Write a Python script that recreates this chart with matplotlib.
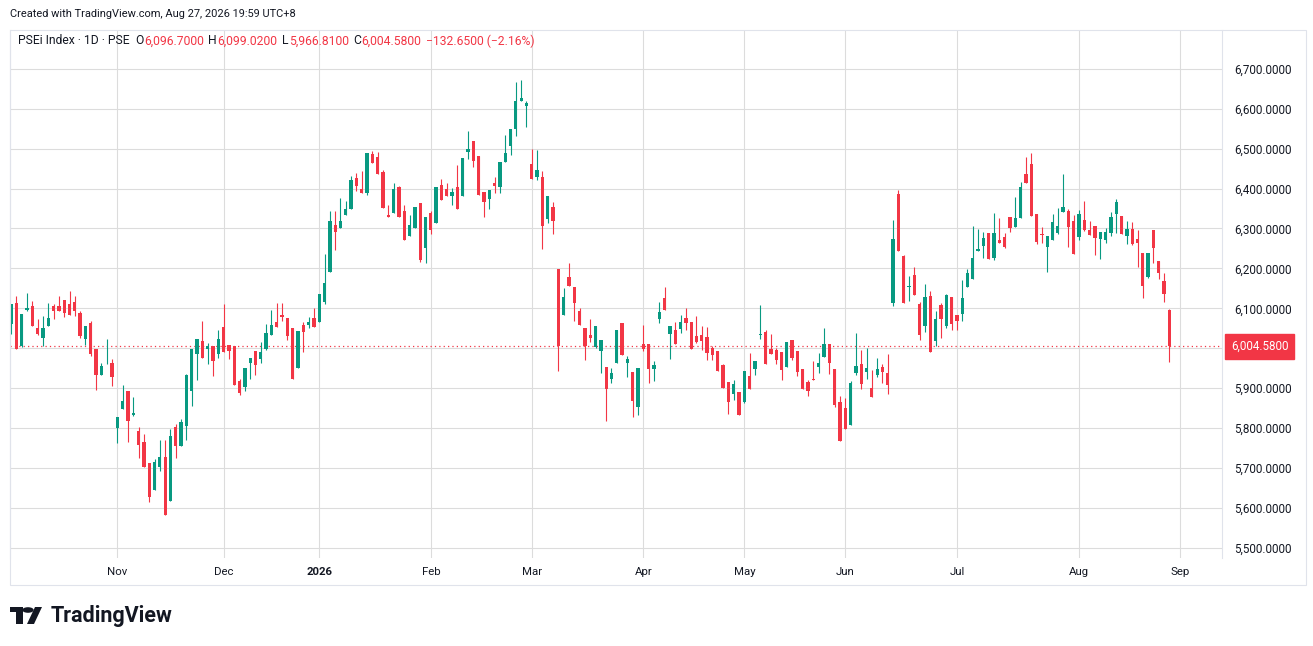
import matplotlib
matplotlib.use("Agg")
import matplotlib.pyplot as plt
import matplotlib.patches as mpatches
import numpy as np
import pandas as pd

# PSEi Tageskerzen (Okt 2025 - 27. Aug 2026)
opens = [6062, 6113, 6006, 6097, 6106, 6052, 6027, 6055, 6106, 6106,
         6121, 6111, 6117, 6088, 6024, 6063, 5998, 5933, 5962, 5963,
         5800, 5848, 5892, 5834, 5792, 5765, 5712, 5646, 5703, 5727,
         5617, 5804, 5756, 5806, 5894, 5986, 6018, 5998, 6005, 5986,
         6053, 6008, 6006, 5918, 5904, 5963, 5993, 5974, 5998, 6034,
         6066, 6083, 6076, 6050, 5951, 6058, 6059, 6076, 6067, 6115,
         6190, 6310, 6302, 6335, 6349, 6426, 6398, 6388, 6486, 6478,
         6441, 6335, 6339, 6403, 6345, 6281, 6301, 6365, 6251, 6340,
         6313, 6408, 6398, 6382, 6403, 6382, 6492, 6518, 6481, 6391,
         6374, 6413, 6404, 6467, 6507, 6548, 6619, 6607, 6461, 6429,
         6428, 6323, 6353, 6198, 6084, 6178, 6153, 6093, 6051, 6033,
         6004, 5994, 5953, 5922, 5962, 6063, 5964, 5941, 5852, 6011,
         6011, 5948, 6073, 6126, 6036, 6046, 6048, 6076, 6066, 6031,
         6033, 6028, 6001, 5993, 5958, 5916, 5886, 5891, 5866, 5931,
         5947, 6034, 6041, 5998, 5996, 5991, 5953, 6021, 5993, 5948,
         5916, 5923, 5953, 5978, 6011, 5948, 5866, 5851, 5809, 5939,
         5961, 5941, 5901, 5933, 5953, 5938, 6113, 6386, 6231, 6153,
         6183, 6111, 6056, 6131, 6019, 6108, 6056, 6128, 6083, 6086,
         6153, 6173, 6243, 6256, 6288, 6226, 6271, 6278, 6328, 6303,
         6326, 6436, 6461, 6336, 6286, 6253, 6271, 6288, 6341, 6343,
         6318, 6279, 6321, 6296, 6306, 6273, 6271, 6288, 6336, 6331,
         6282, 6298, 6273, 6238, 6178, 6296, 6218, 6168, 6096.70]
highs = [6111, 6130, 6086, 6138, 6118, 6073, 6081, 6114, 6112, 6130,
         6121, 6143, 6132, 6094, 6056, 6069, 5998, 5963, 6023, 5973,
         5829, 5908, 5892, 5878, 5804, 5785, 5712, 5723, 5770, 5770,
         5797, 5810, 5823, 5935, 5998, 6023, 6068, 6013, 6005, 6046,
         6111, 6008, 6006, 5923, 5951, 5977, 5993, 6015, 6062, 6096,
         6113, 6113, 6076, 6050, 6044, 6065, 6078, 6101, 6136, 6237,
         6344, 6344, 6377, 6368, 6432, 6439, 6443, 6488, 6493, 6491,
         6446, 6359, 6413, 6406, 6358, 6333, 6355, 6365, 6328, 6345,
         6403, 6423, 6413, 6401, 6458, 6476, 6543, 6518, 6481, 6391,
         6396, 6428, 6466, 6533, 6548, 6666, 6673, 6618, 6500, 6496,
         6443, 6381, 6366, 6198, 6151, 6213, 6153, 6101, 6051, 6073,
         6056, 6021, 5953, 5951, 6046, 6063, 5981, 5941, 5951, 6058,
         6011, 5968, 6116, 6153, 6056, 6066, 6083, 6101, 6066, 6081,
         6056, 6053, 6006, 5993, 5961, 5916, 5921, 5891, 5943, 5988,
         5968, 6108, 6046, 6036, 6001, 5991, 6016, 6021, 5993, 5948,
         5921, 5968, 5988, 6051, 6011, 5948, 5881, 5876, 5918, 6038,
         5996, 6001, 5946, 5976, 5961, 5986, 6321, 6396, 6233, 6181,
         6203, 6116, 6161, 6143, 6093, 6113, 6136, 6128, 6083, 6171,
         6198, 6306, 6298, 6291, 6288, 6338, 6326, 6288, 6328, 6378,
         6416, 6478, 6488, 6336, 6303, 6281, 6336, 6351, 6436, 6348,
         6333, 6346, 6368, 6318, 6306, 6291, 6301, 6341, 6373, 6331,
         6318, 6316, 6296, 6238, 6238, 6296, 6218, 6188, 6099.02]
lows = [6037, 5999, 6004, 6094, 6056, 6034, 6005, 6055, 6073, 6094,
        6079, 6084, 6081, 6026, 6008, 5981, 5896, 5933, 5960, 5906,
        5764, 5848, 5766, 5831, 5725, 5703, 5616, 5646, 5693, 5583,
        5617, 5725, 5756, 5771, 5856, 5921, 5976, 5961, 5931, 5976,
        5990, 5973, 5907, 5884, 5892, 5923, 5932, 5963, 5996, 6034,
        6054, 6069, 6022, 5922, 5951, 5992, 6051, 6053, 6067, 6110,
        6190, 6246, 6302, 6335, 6349, 6393, 6388, 6383, 6465, 6437,
        6351, 6329, 6339, 6328, 6271, 6281, 6301, 6216, 6213, 6286,
        6313, 6372, 6382, 6359, 6349, 6382, 6473, 6454, 6384, 6329,
        6349, 6388, 6389, 6467, 6484, 6532, 6619, 6554, 6424, 6422,
        6248, 6313, 6286, 5942, 6084, 6157, 6069, 6059, 5972, 6017,
        6001, 5937, 5819, 5914, 5962, 5984, 5929, 5827, 5832, 5994,
        5913, 5919, 6063, 6096, 5973, 6011, 6038, 6046, 5998, 6013,
        5996, 5971, 5971, 5944, 5901, 5836, 5871, 5833, 5864, 5898,
        5932, 6023, 5961, 5986, 5961, 5921, 5953, 5971, 5931, 5897,
        5881, 5921, 5938, 5978, 5936, 5853, 5769, 5798, 5807, 5932,
        5898, 5923, 5879, 5928, 5913, 5886, 6106, 6244, 6113, 6118,
        6133, 6021, 6041, 5992, 6007, 6026, 6051, 6046, 6047, 6069,
        6153, 6173, 6243, 6226, 6223, 6221, 6263, 6251, 6291, 6303,
        6326, 6413, 6331, 6261, 6263, 6191, 6271, 6286, 6341, 6253,
        6236, 6270, 6293, 6283, 6233, 6223, 6263, 6281, 6288, 6286,
        6261, 6258, 6203, 6126, 6176, 6213, 6173, 6116, 5966.81]
closes = [6111, 5999, 6086, 6100, 6056, 6036, 6052, 6077, 6094, 6094,
          6089, 6084, 6094, 6031, 6056, 5985, 5933, 5955, 5964, 5929,
          5829, 5867, 5819, 5838, 5758, 5703, 5628, 5715, 5727, 5583,
          5780, 5756, 5815, 5933, 5998, 6023, 5976, 6005, 5969, 6023,
          5990, 5994, 5907, 5887, 5951, 5977, 5959, 5990, 6038, 6058,
          6054, 6079, 6032, 5922, 6044, 6042, 6066, 6053, 6136, 6163,
          6318, 6291, 6320, 6348, 6421, 6406, 6388, 6488, 6465, 6437,
          6351, 6329, 6398, 6330, 6271, 6308, 6355, 6221, 6328, 6296,
          6403, 6372, 6382, 6391, 6349, 6476, 6498, 6469, 6384, 6367,
          6396, 6406, 6466, 6488, 6548, 6618, 6626, 6613, 6424, 6446,
          6306, 6381, 6318, 6007, 6128, 6157, 6114, 6059, 6006, 6026,
          6056, 6021, 5899, 5938, 6046, 5984, 5973, 5869, 5951, 5998,
          5948, 5958, 6091, 6096, 6056, 6011, 6066, 6063, 5998, 6016,
          6018, 5989, 5983, 5944, 5901, 5866, 5910, 5833, 5943, 5898,
          5968, 6037, 5961, 5986, 5971, 5946, 6016, 5976, 5941, 5897,
          5893, 5921, 5963, 6011, 5963, 5858, 5769, 5799, 5913, 5956,
          5911, 5951, 5879, 5948, 5941, 5908, 6273, 6244, 6113, 6156,
          6133, 6033, 6128, 5992, 6073, 6073, 6133, 6061, 6069, 6126,
          6188, 6226, 6248, 6276, 6223, 6288, 6263, 6253, 6301, 6326,
          6403, 6413, 6331, 6266, 6283, 6281, 6316, 6306, 6353, 6303,
          6236, 6336, 6296, 6283, 6276, 6291, 6291, 6328, 6366, 6286,
          6298, 6261, 6263, 6156, 6238, 6251, 6188, 6137.23, 6004.58]

# Boersenfeiertage (PSE), damit die Monatsanfaenge stimmen
holidays = ["2025-12-08", "2025-12-24", "2025-12-25", "2025-12-30", "2025-12-31",
            "2026-01-01", "2026-02-17", "2026-03-20", "2026-04-02", "2026-04-03",
            "2026-04-09", "2026-05-01", "2026-05-27", "2026-06-12", "2026-08-21",
            "2026-08-31"]
price_ticks = list(range(5500, 6800, 100))

GREEN = "#089981"
RED = "#F23645"
DARK = "#131722"
GRID = "#dcdcdc"

plt.rcParams["font.family"] = ["Roboto", "DejaVu Sans"]

W, H = 1313, 646
fig = plt.figure(figsize=(W / 100, H / 100), dpi=100)
fig.patch.set_facecolor("white")

def fx(px):
    return px / W

def fy(py):
    return 1 - py / H

ax = fig.add_axes([fx(10), fy(558), fx(1222 - 10), (558 - 30) / H])

o = np.array(opens, dtype=float)
h = np.array(highs, dtype=float)
l = np.array(lows, dtype=float)
c = np.array(closes, dtype=float)
x = np.arange(len(c))

# Handelstage + ein paar Tage in die Zukunft fuer das Sep-Label
alle_tage = pd.bdate_range("2025-10-06", "2026-09-10", freq="C", holidays=holidays)
tick_pos, tick_lab = [], []
for i in range(1, len(alle_tage)):
    if alle_tage[i].month != alle_tage[i - 1].month:
        tick_pos.append(i)
        d = alle_tage[i]
        tick_lab.append(str(d.year) if d.month == 1 else d.strftime("%b"))

farben = np.where(c >= o, GREEN, RED)
ax.vlines(x, l, h, colors=farben, linewidth=0.8, zorder=3)
body_lo = np.minimum(o, c)
body_h = np.maximum(np.abs(c - o), 2.0)
ax.bar(x, body_h, bottom=body_lo, width=0.62, color=farben, linewidth=0, zorder=4)

# letzte Kurslinie (gepunktet)
ax.axhline(c[-1], color=RED, linewidth=0.9, linestyle=(0, (1, 2.5)), zorder=2)

ax.set_xlim(-0.2, 227.9)
ax.set_ylim(5475, 6797)

# das Label unter der roten Preisbox bleibt leer (wird in TV verdeckt)
ax.yaxis.tick_right()
ax.set_yticks(price_ticks)
ax.set_yticklabels(["" if abs(v - c[-1]) < 30 else f"{v:,.4f}" for v in price_ticks])
ax.set_xticks(tick_pos)
ax.set_xticklabels(tick_lab)
for lab in ax.get_xticklabels():
    if lab.get_text().isdigit():
        lab.set_fontweight("bold")
ax.tick_params(axis="y", length=0, pad=9.0, labelsize=8.4, labelcolor=DARK)
ax.tick_params(axis="x", length=0, pad=6.8, labelsize=8.2, labelcolor=DARK)

ax.grid(True, color=GRID, linewidth=0.8, zorder=0)
ax.set_axisbelow(True)
for s in ["top", "bottom"]:
    ax.spines[s].set_visible(False)
ax.spines["left"].set_color("#e0e3eb")
ax.spines["right"].set_color("#e0e3eb")

# Preislabel rechts
ax.annotate(f"{c[-1]:,.4f}", xy=(1, c[-1]), xycoords=ax.get_yaxis_transform(),
            xytext=(6.5, 0), textcoords="offset points", ha="left", va="center",
            fontsize=8.4, color="white", annotation_clip=False, zorder=10,
            bbox=dict(boxstyle="square,pad=0.5", fc=RED, ec=RED))

# Rahmen aussen
fig.add_artist(mpatches.Rectangle((fx(10), fy(585)), fx(1306 - 10), (585 - 30) / H,
                                  transform=fig.transFigure, fill=False,
                                  ec="#e0e3eb", lw=0.8))

# Kopfzeile
fig.text(fx(10), fy(14), "Created with TradingView.com, Aug 27, 2026 19:59 UTC+8",
         fontsize=7.9, color=DARK, va="center", ha="left")

chg = c[-1] - c[-2]
pct = chg / c[-2] * 100
teile = [("PSEi Index · 1D · PSE", DARK, 0),
         ("O", DARK, 4), (f"{o[-1]:,.4f}", RED, 0.5),
         ("H", DARK, 3), (f"{h[-1]:,.4f}", RED, 0.5),
         ("L", DARK, 3), (f"{l[-1]:,.4f}", RED, 0.5),
         ("C", DARK, 3), (f"{c[-1]:,.4f}", RED, 0.5),
         (f"{chg:,.4f} ({pct:.2f}%)".replace("-", "\u2212"), RED, 3.5)]
prev = fig.text(fx(18), fy(41), teile[0][0], fontsize=8.7, color=teile[0][1],
                va="center", ha="left")
for txt, col, gap in teile[1:]:
    prev = ax.annotate(txt, xy=(1, 0.5), xycoords=prev, xytext=(gap, 0),
                       textcoords="offset points", va="center", ha="left",
                       fontsize=8.7, color=col, annotation_clip=False)

# TradingView Logo unten links
logo = [
    mpatches.Rectangle((fx(10), fy(612)), fx(13), 5 / H),
    mpatches.Rectangle((fx(16), fy(624)), fx(7), 12 / H),
    mpatches.Circle((fx(28), fy(610)), 2.8 / H),
    mpatches.Polygon([(fx(27), fy(624)), (fx(34), fy(624)), (fx(42), fy(607)), (fx(35), fy(607))]),
]
for p in logo:
    p.set_transform(fig.transFigure)
    p.set_facecolor(DARK)
    p.set_edgecolor("none")
    fig.add_artist(p)
fig.text(fx(51), fy(616), "TradingView", fontsize=15.5, fontweight="bold",
         color=DARK, va="center", ha="left")

fig.savefig("out.png", dpi=100, facecolor="white")
